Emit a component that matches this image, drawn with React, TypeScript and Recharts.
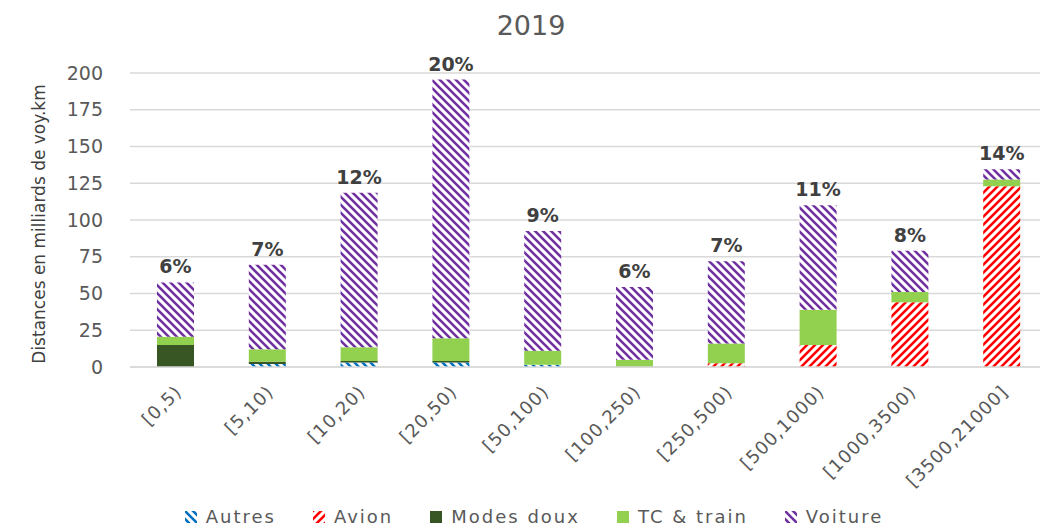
import React from 'react';
import { BarChart, Bar, XAxis, YAxis, CartesianGrid, LabelList, Legend } from 'recharts';

const categories = ['[0,5)', '[5,10)', '[10,20)', '[20,50)', '[50,100)', '[100,250)', '[250,500)', '[500,1000)', '[1000,3500)', '[3500,21000]'];
const autres = [0, 2, 3, 3, 1.5, 0, 0, 0, 0, 0];
const avion = [0, 0, 0, 0, 0, 0, 2.5, 15, 44, 123];
const modesDoux = [15, 1.5, 1, 1, 0, 0, 0, 0, 0, 0];
const tcTrain = [5.5, 8.5, 9.5, 15.5, 9.5, 5, 13.5, 24, 7, 4.5];
const voiture = [37, 57.5, 105, 176, 81.5, 49.5, 56, 71, 28, 7];
const shares = ['6%', '7%', '12%', '20%', '9%', '6%', '7%', '11%', '8%', '14%'];
const yTicks = [0, 25, 50, 75, 100, 125, 150, 175, 200];

const data = categories.map((c, i) => ({
  cat: c,
  autres: autres[i],
  avion: avion[i],
  modesDoux: modesDoux[i],
  tcTrain: tcTrain[i],
  voiture: voiture[i],
  pct: shares[i],
}));

const FONT = '"DejaVu Sans", "Open Sans", sans-serif';
const TXT = '#595959';

const series = [
  { key: 'autres', name: 'Autres', fill: 'url(#pAutres)' },
  { key: 'avion', name: 'Avion', fill: 'url(#pAvion)' },
  { key: 'modesDoux', name: 'Modes doux', fill: '#375623' },
  { key: 'tcTrain', name: 'TC & train', fill: '#92D050' },
  { key: 'voiture', name: 'Voiture', fill: 'url(#pVoiture)' },
];

const XTick = (props: any) => {
  const { x, y, payload } = props;
  const tx = x + 7;
  const ty = y + 26;
  return (
    <text x={tx} y={ty} transform={`rotate(-45 ${tx} ${ty})`} textAnchor="end" fill={TXT} fontSize={18} letterSpacing={1} fontFamily={FONT}>
      {payload.value}
    </text>
  );
};

const LegendContent = () => (
  <div style={{ display: 'flex', justifyContent: 'center', alignItems: 'center', fontFamily: FONT, fontSize: 18, color: TXT, letterSpacing: 2 }}>
    {series.map((s) => (
      <div key={s.key} style={{ display: 'flex', alignItems: 'center', margin: '0 18.5px' }}>
        <svg width={12} height={12} style={{ marginRight: 9 }}>
          <rect x={0} y={0} width={12} height={12} fill={s.fill} />
        </svg>
        <span>{s.name}</span>
      </div>
    ))}
  </div>
);

const stripe = (id: string, color: string, dir: 'down' | 'up') => (
  <pattern id={id} patternUnits="userSpaceOnUse" width={8} height={8}>
    <rect width={8} height={8} fill="#ffffff" />
    {dir === 'down' ? (
      <path d="M-2,-2 L10,10 M-2,6 L2,10 M6,-2 L10,2" stroke={color} strokeWidth={2.6} />
    ) : (
      <path d="M-2,10 L10,-2 M-2,2 L2,-2 M6,10 L10,6" stroke={color} strokeWidth={2.6} />
    )}
  </pattern>
);

export default function App() {
  return (
    <div style={{ position: 'absolute', left: 0, top: 0, width: 1040, height: 527, overflow: 'hidden', background: '#ffffff' }}>
      <div style={{ position: 'absolute', left: 0, top: 12, width: 1062, textAlign: 'center', fontFamily: FONT, fontSize: 27, lineHeight: '27px', color: TXT }}>
        2019
      </div>
      <BarChart width={1048} height={527} data={data} margin={{ top: 73, right: 0, bottom: 0, left: 0 }} barSize={37}>
        <defs>
          {stripe('pVoiture', '#7030A0', 'down')}
          {stripe('pAvion', '#FF0000', 'up')}
          {stripe('pAutres', '#0070C0', 'down')}
        </defs>
        <CartesianGrid vertical={false} stroke="#d9d9d9" strokeWidth={1.5} />
        <XAxis
          dataKey="cat"
          height={160}
          interval={0}
          tickLine={false}
          tickSize={0}
          tickMargin={0}
          axisLine={{ stroke: '#d9d9d9', strokeWidth: 1.5 }}
          tick={<XTick />}
        />
        <YAxis
          width={130}
          domain={[0, 200]}
          ticks={yTicks}
          tickLine={false}
          axisLine={false}
          tickSize={0}
          tickMargin={27}
          tick={{ fill: TXT, fontSize: 19, fontFamily: FONT }}
          label={{
            content: () => (
              <text x={45} y={224} transform="rotate(-90 45 224)" textAnchor="middle" fill="#404040" fontSize={17} fontFamily={FONT}>
                Distances en milliards de voy.km
              </text>
            ),
          }}
        />
        <Legend
          verticalAlign="middle"
          align="center"
          content={<LegendContent />}
          wrapperStyle={{ position: 'absolute', top: 506, left: 14, width: 1040 }}
        />
        {series.map((s) => (
          <Bar key={s.key} dataKey={s.key} name={s.name} stackId="a" fill={s.fill} isAnimationActive={false}>
            {s.key === 'voiture' ? (
              <LabelList dataKey="pct" position="top" offset={9} fill="#404040" fontSize={19} fontWeight="bold" fontFamily={FONT} />
            ) : null}
          </Bar>
        ))}
      </BarChart>
    </div>
  );
}
